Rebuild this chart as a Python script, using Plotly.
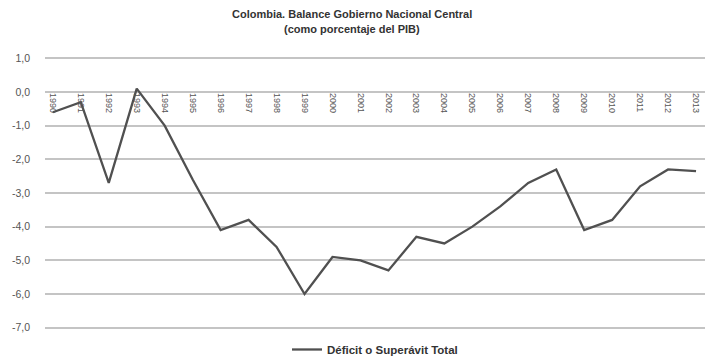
import plotly.graph_objects as go

# Balance del Gobierno Nacional Central, % del PIB
years = list(range(1990, 2014))
balance = [-0.6, -0.3, -2.7, 0.1, -1.0, -2.6, -4.1, -3.8, -4.6, -6.0,
           -4.9, -5.0, -5.3, -4.3, -4.5, -4.0, -3.4, -2.7, -2.3, -4.1,
           -3.8, -2.8, -2.3, -2.35]
y_ticks = [1, 0, -1, -2, -3, -4, -5, -6, -7]
y_labels = ["1,0", "0,0", "-1,0", "-2,0", "-3,0", "-4,0", "-5,0", "-6,0", "-7,0"]
title_lines = ["Colombia. Balance Gobierno Nacional Central", "(como porcentaje del PIB)"]

y_min, y_max = -7.1, 1.1
zero_frac = (0 - y_min) / (y_max - y_min)

fig = go.Figure()
fig.add_trace(go.Scatter(
    x=years, y=balance, mode="lines",
    name="<b>Déficit o Superávit Total</b>",
    line=dict(color="#505050", width=2.3),
))

# Two-line centered title
for text, ypos in zip(title_lines, [14, 29]):
    fig.add_annotation(
        text="<b>" + text + "</b>", showarrow=False,
        xref="paper", x=(352 - 45) / 660, xanchor="center",
        yref="paper", y=1 + (55 - ypos) / 278.8, yanchor="middle",
        font=dict(size=11, color="#333333"),
    )

fig.update_layout(
    width=705, height=364,
    margin=dict(l=45, r=0, t=55, b=31),
    paper_bgcolor="white", plot_bgcolor="white",
    font=dict(family="Liberation Sans, Arial, sans-serif", color="#404040"),
    xaxis=dict(
        range=[1989.72, 2013.32],
        tickmode="array", tickvals=years, ticktext=[str(y) for y in years],
        tickangle=90, tickfont=dict(size=9, color="#555555"),
        showgrid=False, zeroline=False, showline=False, ticks="",
        anchor="free", position=zero_frac,
    ),
    yaxis=dict(
        range=[y_min, y_max],
        tickmode="array", tickvals=y_ticks, ticktext=y_labels,
        tickfont=dict(size=10.5, color="#555555"),
        showgrid=True, gridcolor="#c4c4c4", gridwidth=2,
        zeroline=False, showline=False, ticks="",
        ticklabelstandoff=14,
    ),
    showlegend=True,
    legend=dict(
        orientation="h", x=0.5, xanchor="center",
        y=-0.067, yanchor="middle",
        font=dict(size=11.5, color="#333333"),
    ),
)

fig.write_html("out.html")
